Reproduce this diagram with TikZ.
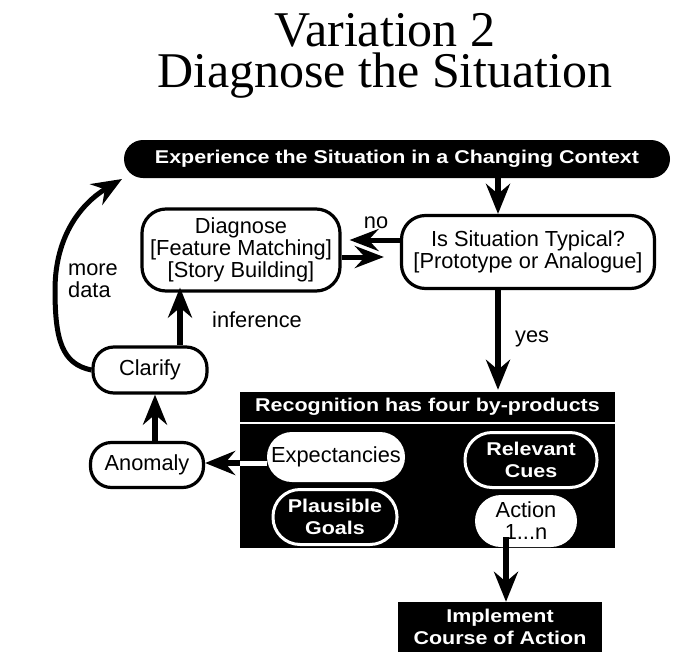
\documentclass[tikz,border=0pt]{standalone}
\usepackage{fontspec}
\setmainfont{Liberation Sans}
\newfontfamily\titlefont{Liberation Serif}
\newfontfamily\widebold[FakeStretch=1.16]{Liberation Sans Bold}
\usetikzlibrary{arrows.meta,calc}

\begin{document}
\begin{tikzpicture}[x=1pt,y=-1pt,
  txt/.style={font=\fontsize{21.8}{22}\selectfont},
  wtxt/.style={font=\widebold\fontsize{18.5}{22}\selectfont, text=white},
  ttl/.style={font=\titlefont\fontsize{50}{41}\selectfont, align=center, inner sep=0pt},
  wbox/.style={draw=black, line width=3.2pt, fill=white, align=center, inner sep=0pt, txt},
  blackpill/.style={fill=black, draw=white, line width=3pt, align=center, inner sep=0pt, wtxt},
  whitepill/.style={fill=white, align=center, inner sep=0pt, txt},
  blackbar/.style={fill=black, align=center, inner sep=0pt, wtxt},
  arr/.style={line width=6pt, -{Stealth[length=30pt,width=24pt,inset=10pt]}},
  harr/.style={line width=5pt, -{Stealth[length=29pt,width=22pt,inset=10pt]}},
  lbl/.style={txt, inner sep=0pt}
]
\useasboundingbox (0,0) rectangle (675,651);

% heading
\node[ttl, anchor=north] (title) at (385,13) {Variation 2\\Diagnose the Situation};

% upper flow
\node[fill=black, rounded corners=19pt, minimum width=546pt, minimum height=38pt,
      inner sep=0pt, wtxt] (exper) at (397,159)
      {Experience the Situation in a Changing Context};
\node[wbox, rounded corners=24pt, minimum width=253pt, minimum height=73pt] (isbox) at (528,252)
      {Is Situation Typical?\\{[}Prototype or Analogue]};
\node[wbox, rounded corners=24pt, minimum width=198pt, minimum height=82pt] (diag) at (241,250)
      {Diagnose\\{[}Feature Matching]\\{[}Story Building]};
\node[wbox, rounded corners=21pt, minimum width=114pt, minimum height=46pt] (clarify) at (150,370) {Clarify};
\node[wbox, rounded corners=21pt, minimum width=113pt, minimum height=45pt] (anomaly) at (147,465) {Anomaly};

% recognition panel
\node[blackbar, minimum width=375pt, minimum height=29.5pt] (recoghead) at (427.5,406.75)
      {Recognition has four by-products};
\node[fill=black, minimum width=375pt, minimum height=124pt, inner sep=0pt] (recogbody) at (427.5,486) {};
\node[whitepill, rounded corners=25pt, minimum width=138pt, minimum height=50pt] (expect) at (336,457) {Expectancies};
\node[blackpill, rounded corners=27pt, minimum width=132pt, minimum height=55pt] (relevant) at (531,460) {Relevant\\Cues};
\node[blackpill, rounded corners=27pt, minimum width=124pt, minimum height=55pt] (plausible) at (335,517) {Plausible\\Goals};
\node[whitepill, rounded corners=26pt, minimum width=102pt, minimum height=52pt] (action) at (526,521) {Action\\1...n};

\node[blackbar, minimum width=204pt, minimum height=50pt] (implement) at (500,627)
      {Implement\\Course of Action};

% alignment helpers
\coordinate (ax) at (498,0);
\coordinate (bx) at (180,0);
\coordinate (cx) at (155,0);
\coordinate (dx) at (506,0);
\coordinate (ey) at (0,463);
\coordinate (mdbend) at (55,290);
\coordinate (mdtip) at (122,179);

% connectors
\draw[arr] (exper.south -| ax) -- (isbox.north -| ax);
\draw[arr] (isbox.south -| ax) -- ($(recoghead.north -| ax)+(0,-2)$);
\draw[harr] ($(isbox.west)+(0,-12)$) -- ($(diag.east)+(8,-10)$);
\draw[harr] ($(diag.east)+(0,7)$) -- ($(isbox.west)+(-16,5)$);
\draw[arr, shorten >=-5pt] (clarify.north -| bx) -- (diag.south -| bx);
\draw[arr] (anomaly.north -| cx) -- (clarify.south -| cx);
\draw[arr] (expect.west |- ey) -- (anomaly.east |- ey);
\draw[white, line width=5pt] (expect.west |- ey) -- (recogbody.west |- ey);
\draw[arr] ($(action.south -| dx)+(0,-10)$) -- (implement.north -| dx);
\draw[arr, line width=5pt] (clarify.west) .. controls (62,364) and (55,340) .. (mdbend)
      .. controls (55,235) and (82,203) .. (mdtip);

% labels
\node[lbl, anchor=west, align=left] (moredata) at (68,281) {more\\data};
\node[lbl, anchor=base west] (inference) at (212,327) {inference};
\node[lbl, anchor=base] (no) at (376,228) {no};
\node[lbl, anchor=base west] (yes) at (515,342) {yes};
\end{tikzpicture}
\end{document}
